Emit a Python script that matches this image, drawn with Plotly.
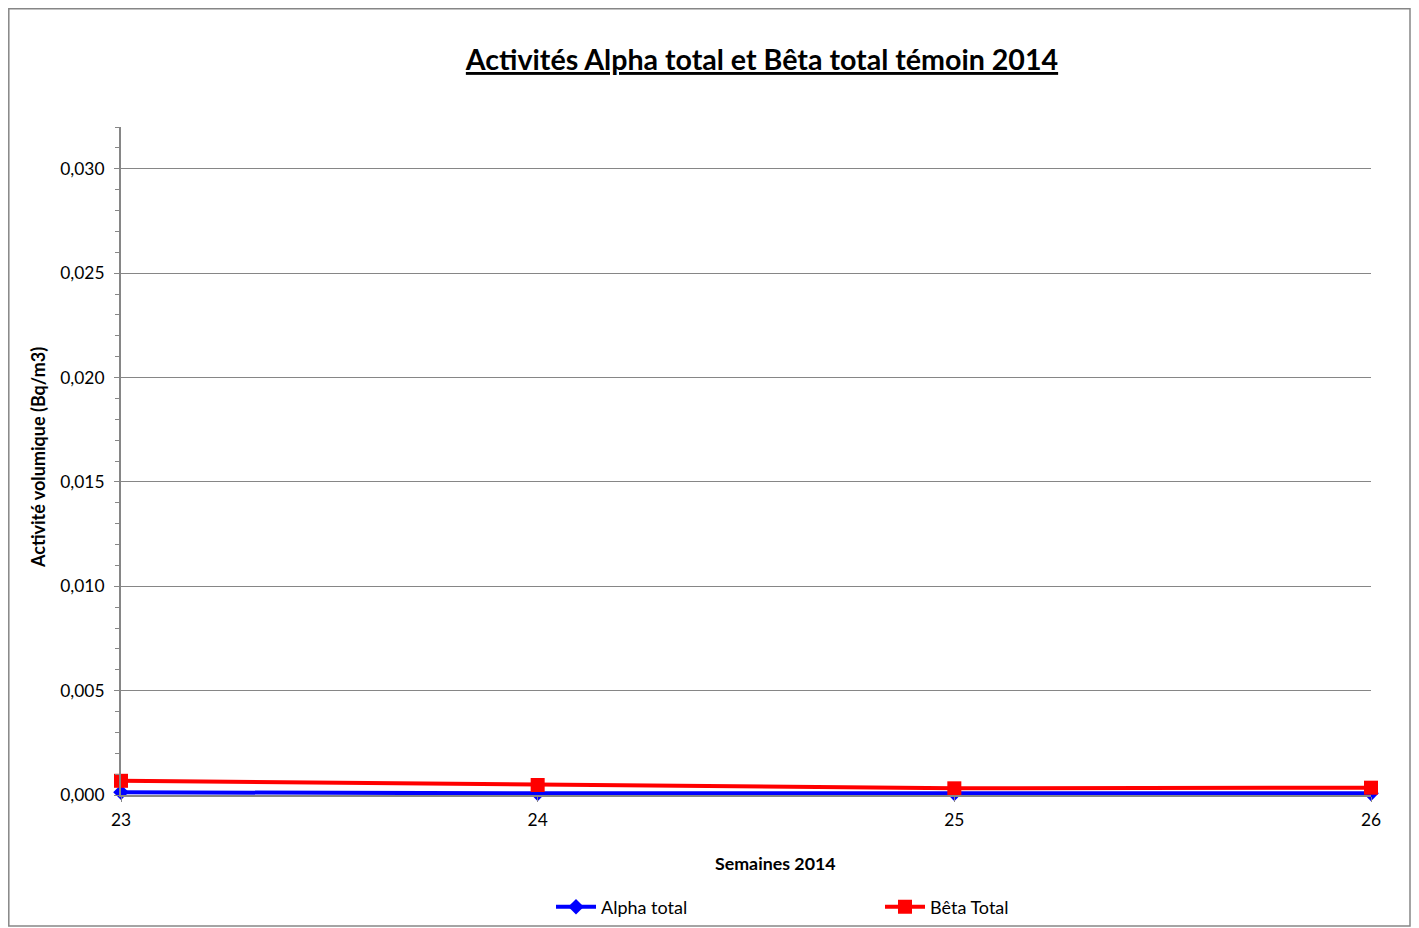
import plotly.graph_objects as go

weeks = [23, 24, 25, 26]
alpha_total = [0.00013, 0.00008, 0.00008, 0.00008]
beta_total = [0.00068, 0.00048, 0.00032, 0.00035]
y_ticks = [0.000, 0.005, 0.010, 0.015, 0.020, 0.025, 0.030]

# page has an 8px body margin: figure coordinates = screen - 8
W, H = 1411, 920
L, T = 113, 119
PLOT_R, PLOT_B = 1363, 787
R, B = W - PLOT_R, H - PLOT_B
PW, PH = PLOT_R - L, PLOT_B - T  # 1250 x 668

def px(xf):
    return (xf - L) / PW

def py(yf):
    return (PLOT_B - yf) / PH

fig = go.Figure()
fig.add_trace(go.Scatter(
    x=weeks, y=alpha_total, name="Alpha total", mode="lines+markers",
    line=dict(color="#0000FF", width=4),
    marker=dict(symbol="diamond", size=12, color="#0000FF"),
    cliponaxis=False,
))
fig.add_trace(go.Scatter(
    x=weeks, y=beta_total, name="Bêta Total", mode="lines+markers",
    line=dict(color="#FF0000", width=4),
    marker=dict(symbol="square", size=14, color="#FF0000"),
    cliponaxis=False,
))

font_family = "Lato, 'Open Sans', sans-serif"
fig.update_layout(
    width=W, height=H,
    margin=dict(l=L, r=R, t=T, b=B, autoexpand=False),
    paper_bgcolor="white", plot_bgcolor="white",
    font=dict(family=font_family, size=17.4, color="black"),
    separators=", ",
    title=dict(
        text="<b><u>Activités Alpha total et Bêta total témoin 2014</u></b>",
        x=754 / W, xanchor="center", y=1 - 52 / H, yanchor="middle",
        font=dict(size=28.6, family=font_family),
    ),
    showlegend=True,
    legend=dict(
        orientation="h", x=px(543), xanchor="left",
        y=py(899), yanchor="middle",
        itemwidth=40,
        entrywidth=274, entrywidthmode="pixels",
        bgcolor="rgba(0,0,0,0)",
        font=dict(size=18),
    ),
    xaxis=dict(
        range=[23, 26], tickvals=weeks, ticktext=[str(w) for w in weeks],
        showgrid=False, zeroline=False,
        showline=True, linecolor="#868686", linewidth=2,
        ticks="outside", ticklen=5, tickcolor="#868686",
        ticklabelstandoff=3,
    ),
    yaxis=dict(
        range=[0, 0.032], tickvals=y_ticks, tickformat=".3f",
        showgrid=True, gridcolor="#868686", gridwidth=1,
        zeroline=False,
        showline=True, linecolor="#868686", linewidth=2,
        ticks="outside", ticklen=5, tickcolor="#868686",
        ticklabelstandoff=6,
        minor=dict(dtick=0.001, ticks="outside", ticklen=4, tickcolor="#868686", showgrid=False),
    ),
    annotations=[
        dict(text="<b>Semaines 2014</b>", xref="paper", yref="paper",
             x=px(767), y=py(855), xanchor="center", yanchor="middle",
             showarrow=False, font=dict(size=17.8)),
        dict(text="<b>Activité volumique (Bq/m3)</b>", xref="paper", yref="paper",
             x=px(30), y=py(450), xanchor="center", yanchor="middle",
             textangle=-90, showarrow=False, font=dict(size=18)),
    ],
    shapes=[dict(
        type="rect", xref="paper", yref="paper",
        x0=px(0.8), x1=px(1402), y0=py(918), y1=py(0.8),
        line=dict(color="#868686", width=1.5), fillcolor="rgba(0,0,0,0)", layer="below",
    )],
)

fig.write_html("out.html")
